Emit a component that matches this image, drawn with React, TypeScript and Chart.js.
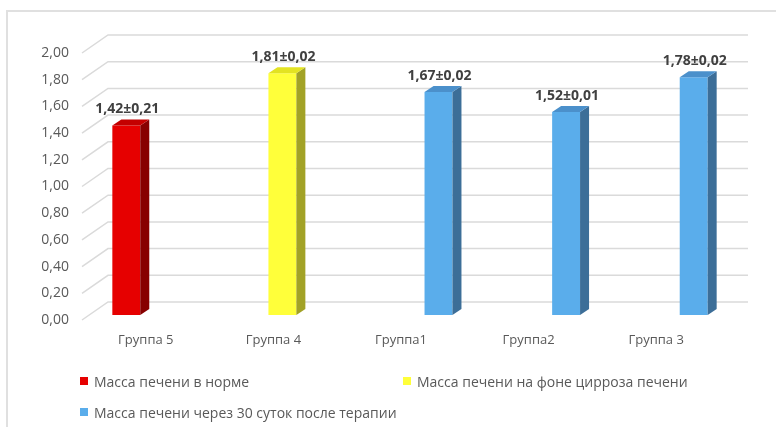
import React, { useEffect, useRef } from "react";
import { Chart, registerables } from "chart.js";

Chart.register(...registerables);

// ---- data ----
const categories = ["Группа 5", "Группа 4", "Группа1", "Группа2", "Группа 3"];
const seriesNames = [
  "Масса печени в норме",
  "Масса печени на фоне цирроза печени",
  "Масса печени через 30 суток после терапии",
];
const normalMass: (number | null)[] = [1.42, null, null, null, null];
const normalErr: (number | null)[] = [0.21, null, null, null, null];
const cirrhosisMass: (number | null)[] = [null, 1.81, null, null, null];
const cirrhosisErr: (number | null)[] = [null, 0.02, null, null, null];
const therapyMass: (number | null)[] = [null, null, 1.67, 1.52, 1.78];
const therapyErr: (number | null)[] = [null, null, 0.02, 0.01, 0.02];
const yMin = 0;
const yMax = 2;
const yStep = 0.2;

// ---- styles ----
const FONT = "'Open Sans', 'Liberation Sans', sans-serif";
const TEXT = "#595959";
const frontColors = ["#e60000", "#ffff3a", "#5aadeb"];
const topColors = ["#c40000", "#e3e322", "#4b90cb"];
const sideColors = ["#870000", "#a2a226", "#3c6e98"];
const DX = 9;
const DY = -6;

const fmt = (v: number) => v.toFixed(2).replace(".", ",");

const errs = [normalErr, cirrhosisErr, therapyErr];

const bar3d = {
  id: "bar3d",
  beforeDatasetsDraw(chart: any) {
    const { ctx, chartArea, scales } = chart;
    const y = scales.y;
    ctx.save();
    ctx.strokeStyle = "#dadada";
    ctx.lineWidth = 1.5;
    y.ticks.forEach((t: any) => {
      const py = y.getPixelForValue(t.value);
      ctx.beginPath();
      ctx.moveTo(chartArea.left - 9, py + 5);
      ctx.lineTo(chartArea.left + 17, py - 13);
      ctx.lineTo(chartArea.right + 19, py - 13);
      ctx.stroke();
    });
    ctx.restore();
  },
  afterDatasetsDraw(chart: any) {
    const { ctx } = chart;
    ctx.save();
    chart.data.datasets.forEach((ds: any, di: number) => {
      const meta = chart.getDatasetMeta(di);
      meta.data.forEach((el: any, i: number) => {
        const v = ds.data[i];
        if (v == null) return;
        const { x, y, base, width } = el.getProps(["x", "y", "base", "width"], true);
        const x0 = x - width / 2;
        const x1 = x + width / 2;
        // side face
        ctx.fillStyle = sideColors[di];
        ctx.beginPath();
        ctx.moveTo(x1, y);
        ctx.lineTo(x1 + DX, y + DY);
        ctx.lineTo(x1 + DX, base + DY);
        ctx.lineTo(x1, base);
        ctx.closePath();
        ctx.fill();
        // top face
        ctx.fillStyle = topColors[di];
        ctx.beginPath();
        ctx.moveTo(x0, y);
        ctx.lineTo(x1, y);
        ctx.lineTo(x1 + DX, y + DY);
        ctx.lineTo(x0 + DX, y + DY);
        ctx.closePath();
        ctx.fill();
        // data label
        const e = errs[di][i];
        const label = e == null ? fmt(v) : `${fmt(v)}±${fmt(e)}`;
        ctx.fillStyle = "#404040";
        ctx.font = `bold 14px ${FONT}`;
        ctx.textAlign = "center";
        ctx.textBaseline = "middle";
        ctx.fillText(label, x + 1, y - 16);
      });
    });
    ctx.restore();
  },
};

export default function App() {
  const ref = useRef<HTMLCanvasElement | null>(null);

  useEffect(() => {
    if (!ref.current) return;
    const chart = new Chart(ref.current, {
      type: "bar",
      data: {
        labels: categories,
        datasets: [
          { label: seriesNames[0], data: normalMass, backgroundColor: frontColors[0] },
          { label: seriesNames[1], data: cirrhosisMass, backgroundColor: frontColors[1] },
          { label: seriesNames[2], data: therapyMass, backgroundColor: frontColors[2] },
        ],
      },
      options: {
        responsive: false,
        animation: false,
        devicePixelRatio: 1,
        layout: { padding: { left: 0, right: 47, top: 48, bottom: 72 } },
        plugins: { legend: { display: false }, tooltip: { enabled: false } },
        datasets: { bar: { categoryPercentage: 0.67, barPercentage: 0.98 } },
        scales: {
          x: {
            grid: { display: false, drawTicks: false },
            border: { display: false },
            ticks: {
              color: TEXT,
              font: { family: FONT, size: 13 },
              padding: 17,
              labelOffset: -9,
              autoSkip: false,
              maxRotation: 0,
            },
            afterFit: (s: any) => {
              s.height = 40;
            },
          },
          y: {
            min: yMin,
            max: yMax,
            grid: { display: false, drawTicks: false },
            border: { display: false },
            ticks: {
              stepSize: yStep,
              color: TEXT,
              font: { family: FONT, size: 14 },
              padding: 22,
              labelOffset: 5,
              callback: (v: any) => fmt(Number(v)),
            },
            afterFit: (s: any) => {
              s.width = 91;
            },
          },
        },
      },
      plugins: [bar3d],
    });
    return () => chart.destroy();
  }, []);

  const legendItems = [
    { name: seriesNames[0], color: frontColors[0], left: 80, top: 381 },
    { name: seriesNames[1], color: frontColors[1], left: 403, top: 381 },
    { name: seriesNames[2], color: frontColors[2], left: 80, top: 412 },
  ];

  return (
    <div
      style={{
        position: "fixed",
        left: 0,
        top: 0,
        width: 776,
        height: 427,
        background: "#fff",
        overflow: "hidden",
      }}
    >
      <div
        style={{
          position: "absolute",
          left: 6,
          top: 10,
          width: 820,
          height: 460,
          borderLeft: "2px solid #e0e0e0",
          borderTop: "2px solid #e0e0e0",
        }}
      />
      <canvas
        ref={ref}
        width={776}
        height={427}
        style={{ position: "absolute", left: 0, top: 0, width: 776, height: 427 }}
      />
      {legendItems.map((it) => (
        <div
          key={it.name}
          style={{
            position: "absolute",
            left: it.left,
            top: it.top - 10,
            height: 20,
            display: "flex",
            alignItems: "center",
            fontFamily: FONT,
            fontSize: 14,
            color: TEXT,
            whiteSpace: "nowrap",
          }}
        >
          <span
            style={{
              display: "inline-block",
              width: 8,
              height: 8,
              background: it.color,
              marginRight: 6,
            }}
          />
          {it.name}
        </div>
      ))}
    </div>
  );
}
